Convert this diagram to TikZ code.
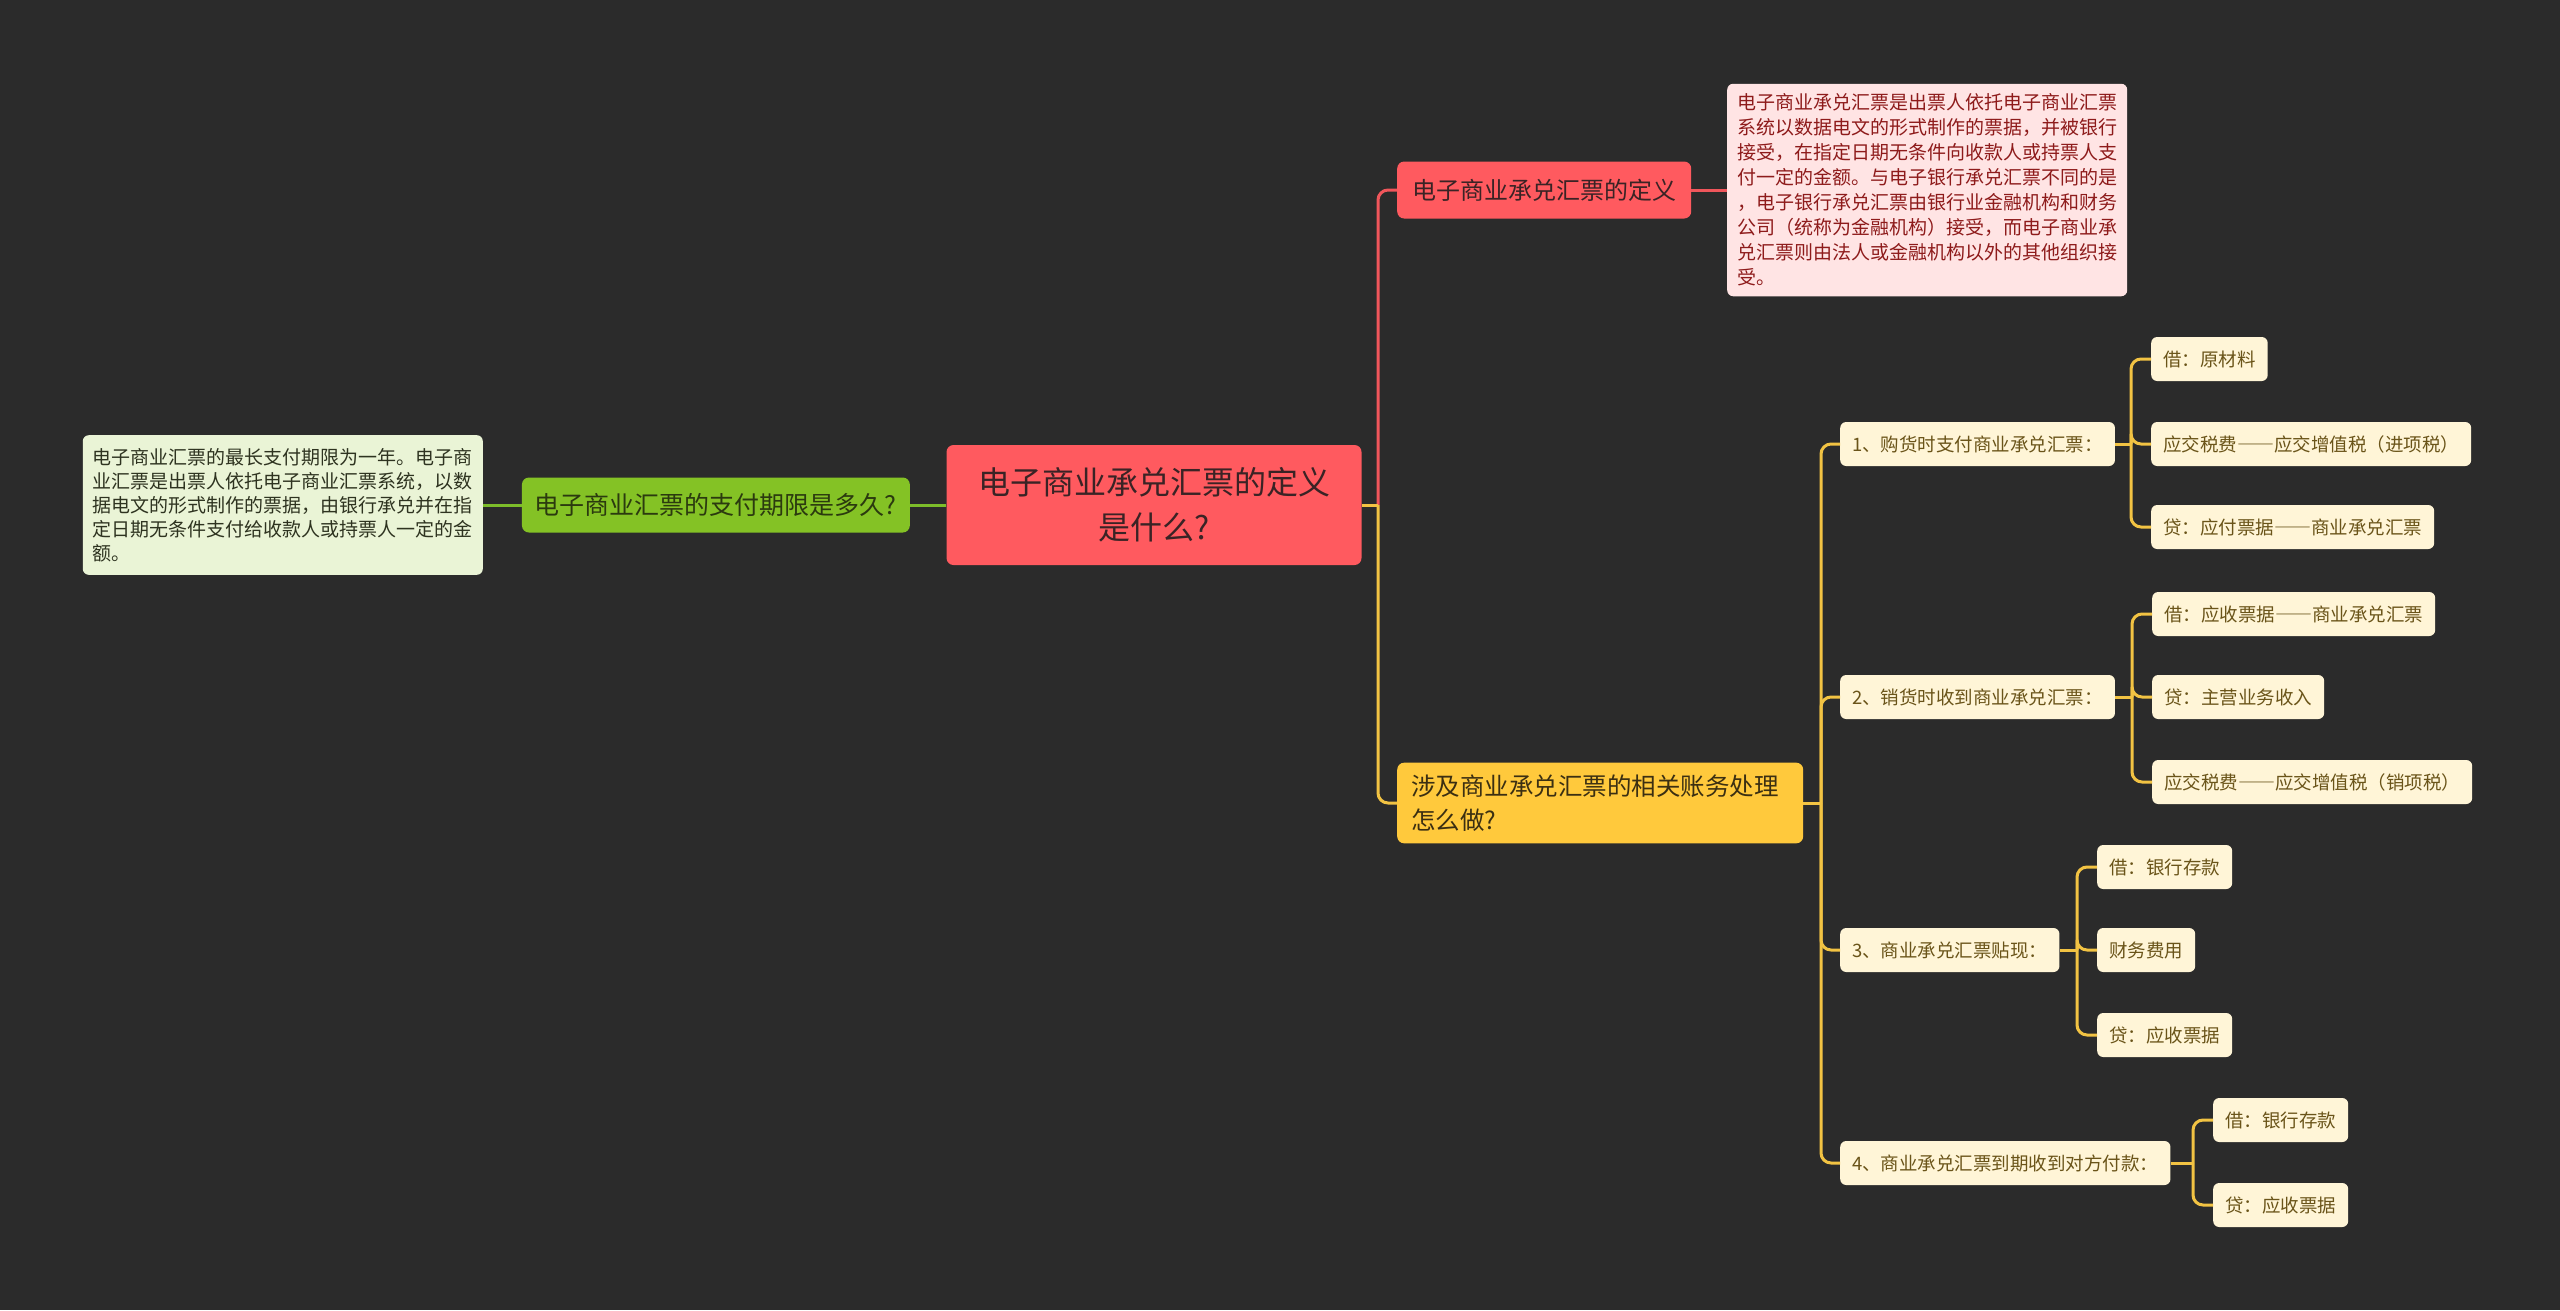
\documentclass[tikz,border=0pt]{standalone}
\usepackage{fontspec}
\setmainfont{Noto Sans CJK SC}
\newcommand{\longdash}{{\addfontfeatures{RawFeature=+fwid}——}}
\definecolor{bg}{HTML}{2B2B2B}
\definecolor{rootred}{HTML}{FF5A5F}
\definecolor{darktext}{HTML}{3A2325}
\definecolor{pinkfill}{HTML}{FFE4E4}
\definecolor{pinktext}{HTML}{8E1B1B}
\definecolor{grass}{HTML}{84C225}
\definecolor{grasstext}{HTML}{2B3A0F}
\definecolor{palegreen}{HTML}{EAF4D6}
\definecolor{palegreentext}{HTML}{2E3320}
\definecolor{gold}{HTML}{FFC93C}
\definecolor{goldtext}{HTML}{3B2F12}
\definecolor{cream}{HTML}{FFF5D7}
\definecolor{creamtext}{HTML}{6A5419}
\definecolor{goldline}{HTML}{F2C343}
\definecolor{redline}{HTML}{F0565B}
\definecolor{greenline}{HTML}{7DBD2A}
\begin{document}
\begin{tikzpicture}[x=1pt,y=-1pt,
    leaf/.style={fill=cream, text=creamtext, rounded corners=6pt, inner xsep=12pt,
        minimum height=44pt, anchor=west, font=\fontsize{18.5}{22}\selectfont},
    note/.style={rounded corners=6pt, inner xsep=10pt, inner ysep=10pt, align=left,
        font=\fontsize{19}{25}\selectfont},
    rededge/.style={draw=redline, line width=3pt, rounded corners=10pt},
    goldedge/.style={draw=goldline, line width=3pt, rounded corners=10pt},
    greenedge/.style={draw=greenline, line width=3pt}]
    \fill[bg] (0,0) rectangle (2560,1310);
    \useasboundingbox (0,0) rectangle (2560,1310);

    \node[fill=rootred, text=darktext, rounded corners=7pt, minimum width=415pt, minimum height=120pt,
        align=center, font=\fontsize{32}{45}\selectfont] (root) at (1154,505) {电子商业承兑汇票的定义\\是什么?};

    \node[fill=rootred, text=darktext, rounded corners=7pt, inner xsep=15pt, minimum height=57pt,
        anchor=west, font=\fontsize{24}{30}\selectfont] (def) at (1397,190) {电子商业承兑汇票的定义};
    \node[note, fill=pinkfill, text=pinktext, anchor=west] (deftxt) at (1727,190)
        {电子商业承兑汇票是出票人依托电子商业汇票\\系统以数据电文的形式制作的票据，并被银行\\接受，在指定日期无条件向收款人或持票人支\\付一定的金额。与电子银行承兑汇票不同的是\\，电子银行承兑汇票由银行业金融机构和财务\\公司（统称为金融机构）接受，而电子商业承\\兑汇票则由法人或金融机构以外的其他组织接\\受。};

    \node[fill=grass, text=grasstext, rounded corners=7pt, inner xsep=13pt, minimum height=55pt,
        anchor=east, font=\fontsize{25}{30}\selectfont] (term) at (910,505) {电子商业汇票的支付期限是多久?};
    \node[note, fill=palegreen, text=palegreentext, anchor=east, inner ysep=13pt, font=\fontsize{19}{24}\selectfont] (termtxt) at (483,505)
        {电子商业汇票的最长支付期限为一年。电子商\\业汇票是出票人依托电子商业汇票系统，以数\\据电文的形式制作的票据，由银行承兑并在指\\定日期无条件支付给收款人或持票人一定的金\\额。};

    \node[fill=gold, text=goldtext, rounded corners=7pt, inner xsep=14pt, inner ysep=12pt, text width=378pt,
        align=left, anchor=west, font=\fontsize{24.5}{34}\selectfont] (acc) at (1397,803) {涉及商业承兑汇票的相关账务处理\\怎么做?};

    \node[leaf] (a1) at (1840,444) {1、购货时支付商业承兑汇票：};
    \node[leaf] (a2) at (1840,697) {2、销货时收到商业承兑汇票：};
    \node[leaf] (a3) at (1840,950) {3、商业承兑汇票贴现：};
    \node[leaf] (a4) at (1840,1163) {4、商业承兑汇票到期收到对方付款：};

    \node[leaf] (a1a) at (2151,359) {借：原材料};
    \node[leaf] (a1b) at (2151,444) {应交税费\longdash 应交增值税（进项税）};
    \node[leaf] (a1c) at (2151,527) {贷：应付票据\longdash 商业承兑汇票};
    \node[leaf] (a2a) at (2152,614) {借：应收票据\longdash 商业承兑汇票};
    \node[leaf] (a2b) at (2152,697) {贷：主营业务收入};
    \node[leaf] (a2c) at (2152,782) {应交税费\longdash 应交增值税（销项税）};
    \node[leaf] (a3a) at (2097,867) {借：银行存款};
    \node[leaf] (a3b) at (2097,950) {财务费用};
    \node[leaf] (a3c) at (2097,1035) {贷：应收票据};
    \node[leaf] (a4a) at (2213,1120) {借：银行存款};
    \node[leaf] (a4b) at (2213,1205) {贷：应收票据};

    \coordinate (rj) at (1378,505);
    \coordinate (aj) at (1821,803);
    \coordinate (j1) at (2131,444);
    \coordinate (j2) at (2132,697);
    \coordinate (j3) at (2077,950);
    \coordinate (j4) at (2193,1163);

    \path[greenedge] (root) -- (term);
    \path[greenedge] (term) -- (termtxt);
    \path[rededge] (rj) |- (def.west);
    \path[rededge] (def) -- (deftxt);
    \path[goldedge] (root.east) -- (rj);
    \path[goldedge] (rj) |- (acc.west);

    \path[goldedge] (acc.east) -- (aj);
    \path[goldedge] (aj) |- (a1.west);
    \path[goldedge] (aj) |- (a2.west);
    \path[goldedge] (aj) |- (a3.west);
    \path[goldedge] (aj) |- (a4.west);

    \path[goldedge] (a1.east) -- (j1);
    \path[goldedge] (j1) |- (a1a.west);
    \path[goldedge] (j1) |- (a1b.west);
    \path[goldedge] (j1) |- (a1c.west);
    \path[goldedge] (a2.east) -- (j2);
    \path[goldedge] (j2) |- (a2a.west);
    \path[goldedge] (j2) |- (a2b.west);
    \path[goldedge] (j2) |- (a2c.west);
    \path[goldedge] (a3.east) -- (j3);
    \path[goldedge] (j3) |- (a3a.west);
    \path[goldedge] (j3) |- (a3b.west);
    \path[goldedge] (j3) |- (a3c.west);
    \path[goldedge] (a4.east) -- (j4);
    \path[goldedge] (j4) |- (a4a.west);
    \path[goldedge] (j4) |- (a4b.west);
\end{tikzpicture}
\end{document}
